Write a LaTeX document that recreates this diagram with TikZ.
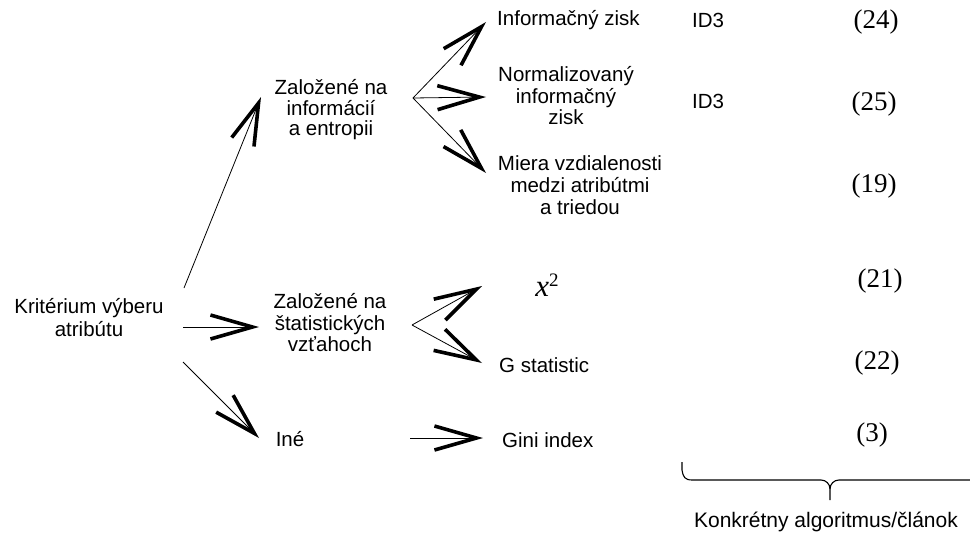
\documentclass[tikz,border=0pt]{standalone}
\usepackage{fontspec}
\setmainfont{Liberation Sans}
\newfontfamily\numfont{Liberation Serif}
\usetikzlibrary{arrows.meta}
\begin{document}
\begin{tikzpicture}[x=1pt,y=-1pt,
  lbl/.style={font=\fontsize{20.5}{21.5}\selectfont, align=center, inner sep=0pt},
  num/.style={font=\numfont\fontsize{27}{28}\selectfont, inner sep=0pt},
  arr/.style={line width=0.8pt, -{Straight Barb[length=42pt,width=24pt,line width=3.6pt]}},
  brace/.style={line width=1.1pt}]
\useasboundingbox (0,0) rectangle (970,535);
% nodes
\node[lbl, font=\fontsize{20.5}{23}\selectfont] (krit) at (89,318) {Kritérium výberu\\atribútu};
\node[lbl, font=\fontsize{20.5}{20.5}\selectfont] (info) at (331,110) {Založené na\\ informácií\\a entropii};
\node[lbl] (stat) at (330,323) {Založené na\\štatistických\\vzťahoch};
\node[lbl] (ine) at (290,439) {Iné};
\node[lbl, anchor=west] (ig) at (497,20) {Informačný zisk};
\node[lbl, font=\fontsize{20.5}{21.5}\selectfont] (nig) at (566,96) {Normalizovaný\\informačný\\zisk};
\node[lbl, font=\fontsize{20.5}{22}\selectfont] (miera) at (580,185) {Miera vzdialenosti\\medzi atribútmi\\a triedou};
\node[inner sep=0pt, font=\numfont\fontsize{31}{31}\selectfont] (chi) at (547,285) {{\itshape x}\raisebox{10pt}{\fontsize{19}{19}\selectfont 2}};
\node[lbl, anchor=west] (gs) at (499,365) {G statistic};
\node[lbl, anchor=west] (gini) at (502,440) {Gini index};
\node[lbl, anchor=west] (id1) at (692,20) {ID3};
\node[lbl, anchor=west] (id2) at (692,101) {ID3};
\node[num] (r24) at (876,22) {(24)};
\node[num] (r25) at (874,104) {(25)};
\node[num] (r19) at (874,186) {(19)};
\node[num] (r21) at (880,281) {(21)};
\node[num] (r22) at (877,363) {(22)};
\node[num] (r3) at (872,435) {(3)};
\node[lbl, font=\fontsize{21}{22}\selectfont] (konk) at (826,522) {Konkrétny algoritmus/článok};
% connector points
\coordinate (k1) at (184,288);
\coordinate (k2) at (183,327);
\coordinate (k3) at (183,362);
\coordinate (t1) at (261,97);
\coordinate (t2) at (259,327);
\coordinate (t3) at (259,438);
\coordinate (ib) at (413,98);
\coordinate (ti1) at (486,22);
\coordinate (ti2) at (486,97);
\coordinate (ti3) at (486,173);
\coordinate (sb) at (412,325);
\coordinate (ts1) at (482,286);
\coordinate (ts2) at (482,363);
\coordinate (g1) at (410,438);
\coordinate (tg) at (483,438);
% connectors
\draw[arr] (k1) -- (t1);
\draw[arr] (k2) -- (t2);
\draw[arr] (k3) -- (t3);
\draw[arr] (ib) -- (ti1);
\draw[arr] (ib) -- (ti2);
\draw[arr] (ib) -- (ti3);
\draw[arr] (sb) -- (ts1);
\draw[arr] (sb) -- (ts2);
\draw[arr] (g1) -- (tg);
% brace
\coordinate (bl) at (682,462);
\coordinate (bm) at (830,500);
\coordinate (br) at (970,480);
\draw[brace] (bl) -- (682,470) .. controls (683,477) and (685,480) .. (692,480) -- (821,480)
  .. controls (826,480) and (830,484) .. (830,489) -- (bm);
\draw[brace] (830,489) .. controls (830,484) and (834,480) .. (839,480) -- (br);
\end{tikzpicture}
\end{document}
